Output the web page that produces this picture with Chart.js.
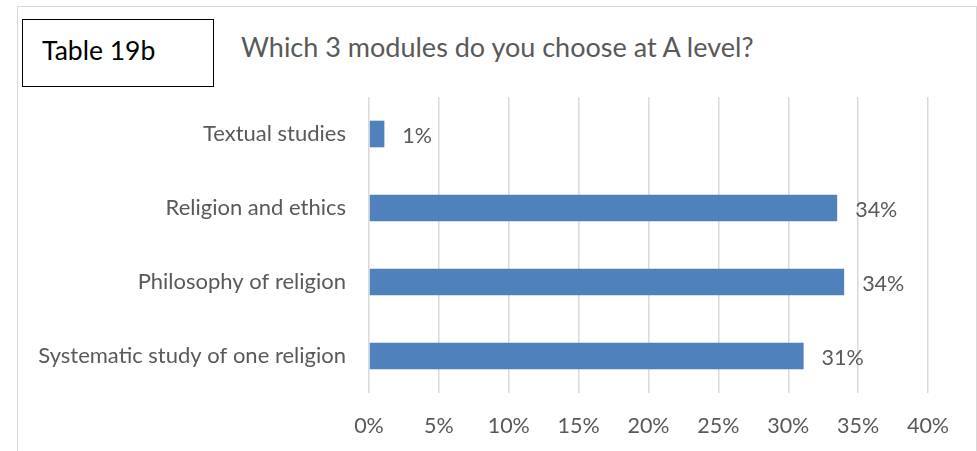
<!DOCTYPE html>
<html>
<head>
<meta charset="utf-8">
<script src="https://cdn.jsdelivr.net/npm/chart.js@4.4.1/dist/chart.umd.min.js"></script>
<style>
  html, body { margin: 0; padding: 0; background: #ffffff; }
  #wrap { position: relative; width: 977px; height: 451px; overflow: hidden; font-family: Lato, "Liberation Sans", sans-serif; }
  #frame { position: absolute; left: 17px; top: 6px; width: 960px; height: 460px; border: 1px solid #d9d9d9; box-sizing: border-box; }
  #tag { position: absolute; left: 22px; top: 19px; width: 192px; height: 68px; border: 1px solid #000; box-sizing: border-box;
         font-size: 26.5px; color: #000; line-height: 60px; padding-left: 19px; }
  #heading { position: absolute; left: 241px; top: 31px; font-size: 27px; color: #595959; line-height: 32px; white-space: nowrap; }
  canvas { position: absolute; left: 0; top: 0; }
</style>
</head>
<body>
<div id="wrap">
  <div id="frame"></div>
  <div id="tag">Table 19b</div>
  <div id="heading">Which 3 modules do you choose at A level?</div>
  <canvas id="chart" width="977" height="451"></canvas>
</div>
<script>
// Modules offered at A level and the share of respondents choosing each (%)
const modules = [
  "Textual studies",
  "Religion and ethics",
  "Philosophy of religion",
  "Systematic study of one religion"
];
const shares = [1.1, 33.5, 34.0, 31.1];
const axisTicks = [0, 5, 10, 15, 20, 25, 30, 35, 40];

const textColor = "#595959";
const fontFamily = "Lato, 'Liberation Sans', sans-serif";

// Writes the rounded percentage just past the end of each bar
const valueLabels = {
  id: "valueLabels",
  afterDatasetsDraw(chart) {
    const ctx = chart.ctx;
    const meta = chart.getDatasetMeta(0);
    ctx.save();
    ctx.font = "21.5px " + fontFamily;
    ctx.fillStyle = textColor;
    ctx.textAlign = "left";
    ctx.textBaseline = "middle";
    meta.data.forEach((bar, i) => {
      ctx.fillText(Math.round(shares[i]) + "%", bar.x + 18, bar.y + 2);
    });
    ctx.restore();
  }
};

new Chart(document.getElementById("chart"), {
  type: "bar",
  data: {
    labels: modules,
    datasets: [{
      data: shares,
      backgroundColor: "#4f81bd",
      borderWidth: 0,
      categoryPercentage: 1,
      barPercentage: 0.36
    }]
  },
  options: {
    indexAxis: "y",
    responsive: false,
    animation: false,
    layout: { padding: { left: 0, right: 49, top: 97, bottom: 0 } },
    plugins: { legend: { display: false }, tooltip: { enabled: false }, title: { display: false } },
    scales: {
      x: {
        min: 0,
        max: 40,
        afterBuildTicks(scale) { scale.ticks = axisTicks.map(v => ({ value: v })); },
        afterFit(scale) { scale.height = 451 - 393; },
        border: { display: false },
        grid: { color: "#d9d9d9", lineWidth: 1.5, drawTicks: false },
        ticks: {
          padding: 20,
          color: textColor,
          font: { family: fontFamily, size: 21.5 },
          callback: v => v + "%"
        }
      },
      y: {
        afterFit(scale) { scale.width = 369; },
        border: { display: false },
        grid: { display: false, drawTicks: false },
        ticks: {
          padding: 23,
          color: textColor,
          font: { family: fontFamily, size: 22 }
        }
      }
    }
  },
  plugins: [valueLabels]
});
</script>
</body>
</html>
